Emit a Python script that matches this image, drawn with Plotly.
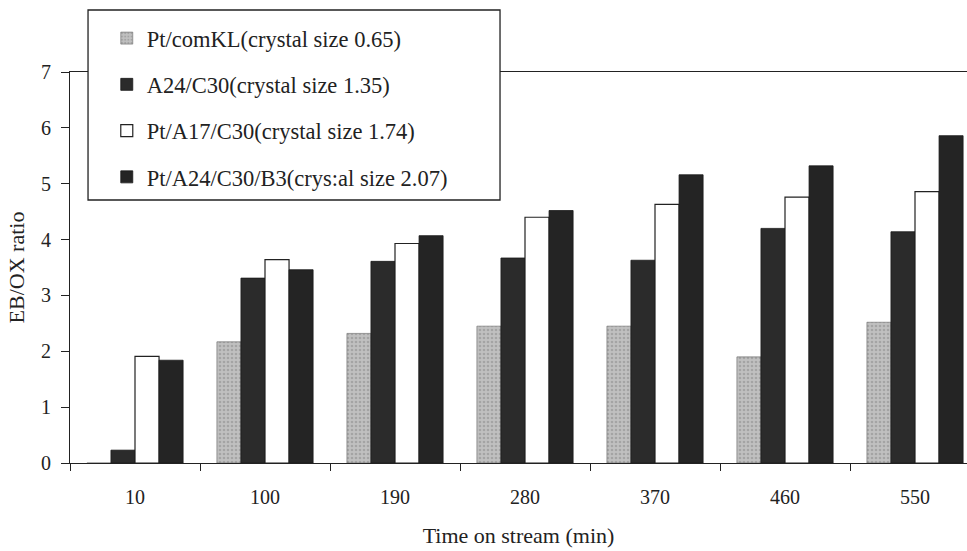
import plotly.graph_objects as go

categories = ["10", "100", "190", "280", "370", "460", "550"]
names = [
    "Pt/comKL(crystal size 0.65)",
    "A24/C30(crystal size 1.35)",
    "Pt/A17/C30(crystal size 1.74)",
    "Pt/A24/C30/B3(crys:al size 2.07)",
]
pt_comkl = [0.0, 2.17, 2.32, 2.45, 2.45, 1.90, 2.52]
a24_c30 = [0.23, 3.31, 3.61, 3.67, 3.63, 4.20, 4.14]
pt_a17_c30 = [1.91, 3.64, 3.93, 4.40, 4.63, 4.76, 4.86]
pt_a24_c30_b3 = [1.84, 3.46, 4.07, 4.52, 5.16, 5.32, 5.86]
y_ticks = [0, 1, 2, 3, 4, 5, 6, 7]

FONT = "Liberation Serif"
INK = "#222222"

fig = go.Figure()
fig.add_trace(go.Bar(
    x=categories, y=pt_comkl, name=names[0], legendgroup="a",
    marker=dict(color="#bcbcbc", line=dict(color="#666666", width=0.6),
                pattern=dict(shape=".", fgcolor="#888888", bgcolor="#c0c0c0", size=4, solidity=0.35)),
))
fig.add_trace(go.Bar(
    x=categories, y=a24_c30, name=names[1], legendgroup="b",
    marker=dict(color="#2b2b2b", line=dict(color="#1a1a1a", width=0.8)),
))
fig.add_trace(go.Bar(
    x=categories, y=pt_a17_c30, name=names[2], legendgroup="c",
    marker=dict(color="#ffffff", line=dict(color=INK, width=1.2)),
))
fig.add_trace(go.Bar(
    x=categories, y=pt_a24_c30_b3, name=names[3], legendgroup="d",
    marker=dict(color="#242424", line=dict(color="#1a1a1a", width=0.8)),
))

# legend frame (white box with border) drawn as a shape; legend itself is transparent on top
fig.add_shape(
    type="rect", xref="paper", yref="paper",
    x0=0.0201, x1=0.4794, y0=0.6726, y1=1.1586,
    fillcolor="white", line=dict(color=INK, width=1.3), layer="above",
)

fig.update_layout(
    width=967, height=551,
    margin=dict(l=70, r=0, t=72, b=88),
    paper_bgcolor="white", plot_bgcolor="white",
    barmode="group", bargap=0.26, bargroupgap=0,
    font=dict(family=FONT, size=20, color=INK),
    showlegend=True,
    legend=dict(
        x=0.041, y=1.1407, xanchor="left", yanchor="top",
        bgcolor="rgba(0,0,0,0)", borderwidth=0,
        font=dict(family=FONT, size=22.5, color=INK),
        traceorder="grouped", tracegroupgap=14,
    ),
    xaxis=dict(
        range=[-0.5, 6.4], showline=True, linecolor=INK, linewidth=1.2,
        mirror=True, ticks="outside", tickson="boundaries", ticklen=7,
        tickcolor=INK, showgrid=False, zeroline=False,
        ticklabelstandoff=16,
        title=dict(text="Time on stream (min)", font=dict(family=FONT, size=22), standoff=20),
        tickfont=dict(family=FONT, size=20),
    ),
    yaxis=dict(
        range=[0, 7], tickvals=y_ticks, showline=True, linecolor=INK, linewidth=1.2,
        ticks="outside", ticklen=8, tickcolor=INK, showgrid=False, zeroline=False,
        ticklabelstandoff=6,
        title=dict(text="EB/OX ratio", font=dict(family=FONT, size=22), standoff=10),
        tickfont=dict(family=FONT, size=20),
    ),
)

fig.write_html("out.html")
